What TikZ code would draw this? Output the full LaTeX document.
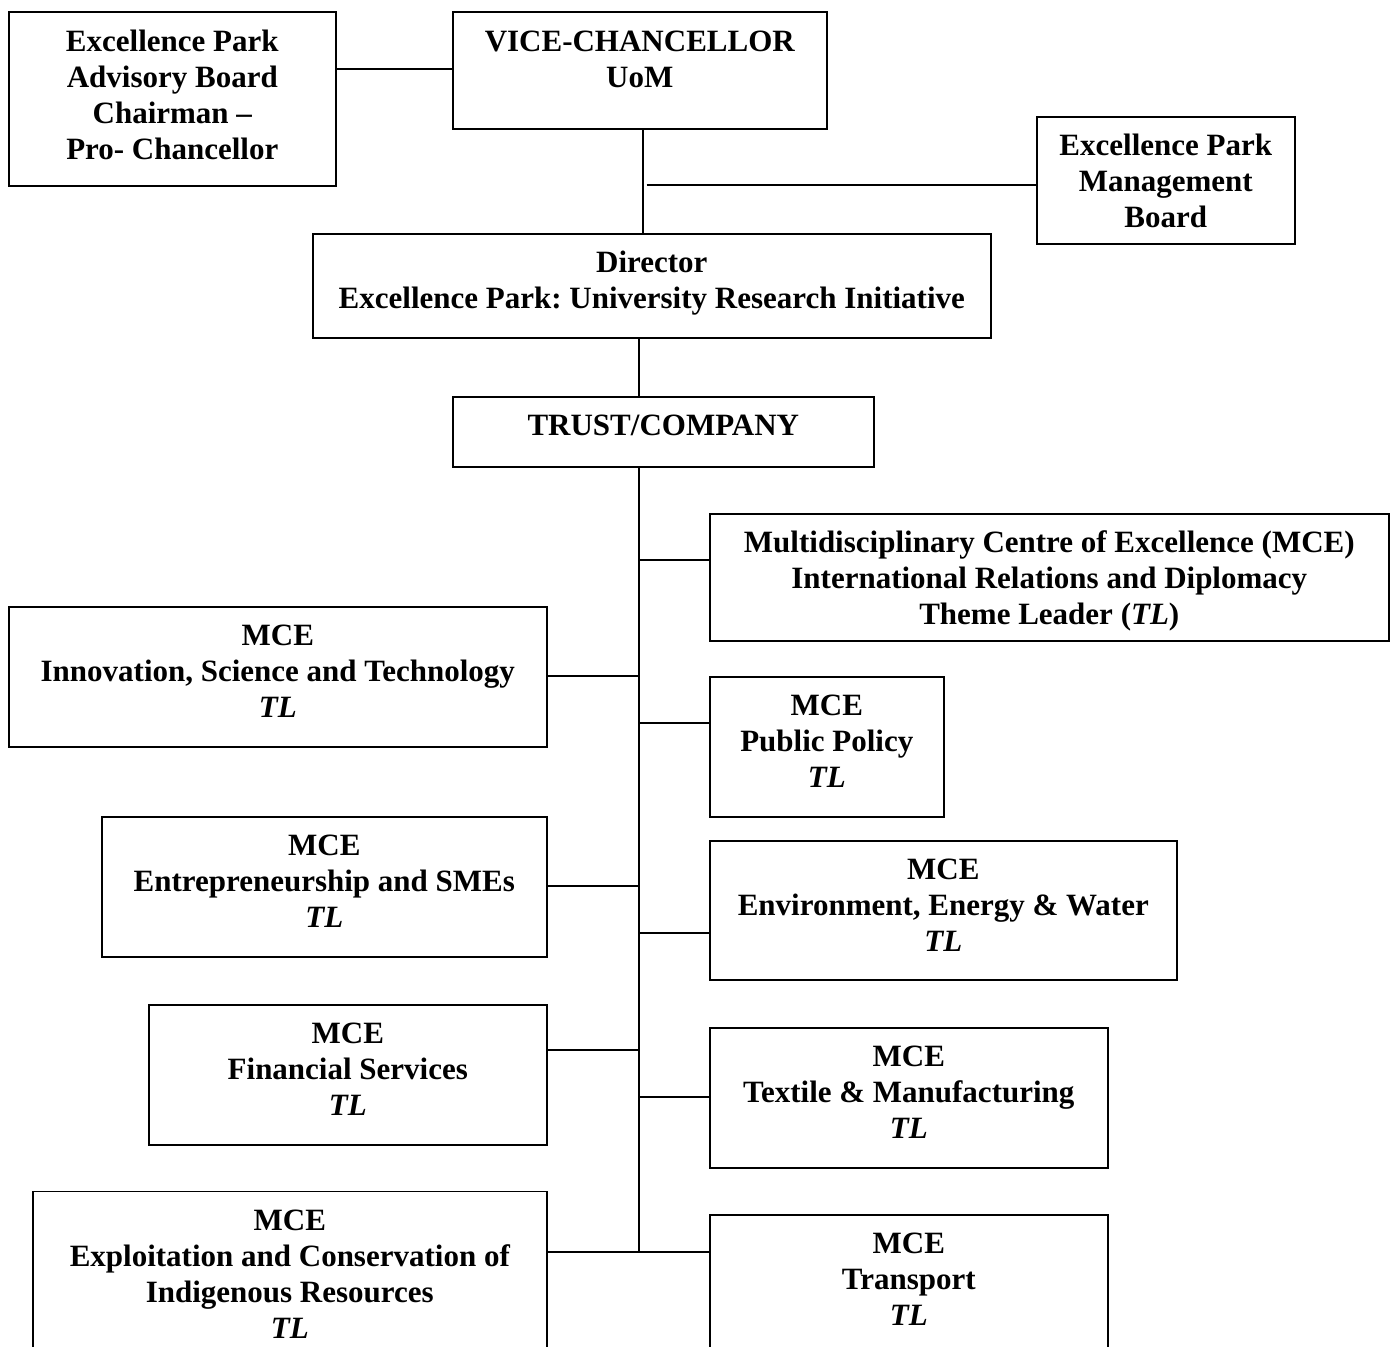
\documentclass[tikz,border=0pt]{standalone}
\usepackage{fontspec}
\setmainfont{Liberation Serif}
\frenchspacing
\tikzset{
  orgbox/.style n args={3}{draw, line width=0.8pt, anchor=north west, align=center,
    inner sep=0pt, minimum width=#1, text height=#2, text depth=#3,
    font=\bfseries\fontsize{15.5}{18}\selectfont},
  link/.style={line width=0.9pt}
}
\begin{document}
\begin{tikzpicture}[x=0.5pt, y=-0.5pt]
    \useasboundingbox (0,0) rectangle (1393,1347);
    % top level
    \node[orgbox={163.5pt}{73.5pt}{13.5pt}] (adv) at (8,11.5) {Excellence Park\\Advisory Board\\Chairman --\\Pro- Chancellor};
    \node[orgbox={187pt}{37.5pt}{20.75pt}] (vc) at (452,11.5) {VICE-CHANCELLOR\\UoM};
    \node[orgbox={129pt}{55.5pt}{8pt}] (mgmt) at (1036,116) {Excellence Park\\Management\\Board};
    \node[orgbox={339pt}{37.5pt}{14.5pt}] (dir) at (312,233) {Director\\Excellence Park: University Research Initiative};
    \node[orgbox={210.5pt}{19.5pt}{15.5pt}] (trust) at (452,396) {TRUST/COMPANY};
    % centres of excellence, right
    \node[orgbox={339.5pt}{55.5pt}{8pt}] (ir) at (709,513) {Multidisciplinary Centre of Excellence (MCE)\\International Relations and Diplomacy\\Theme Leader (\textit{TL})};
    \node[orgbox={117pt}{55.5pt}{14.5pt}] (policy) at (709,676) {MCE\\Public Policy\\\textit{TL}};
    \node[orgbox={233.5pt}{55.5pt}{14pt}] (env) at (709,840) {MCE\\Environment, Energy \& Water\\\textit{TL}};
    \node[orgbox={199pt}{55.5pt}{14.5pt}] (tex) at (709,1027) {MCE\\Textile \& Manufacturing\\\textit{TL}};
    \node[orgbox={199pt}{55.5pt}{14.5pt}] (trans) at (709,1214) {MCE\\Transport\\\textit{TL}};
    % centres of excellence, left
    \node[orgbox={269pt}{55.5pt}{14.5pt}] (innov) at (8,606) {MCE\\Innovation, Science and Technology\\\textit{TL}};
    \node[orgbox={222.5pt}{55.5pt}{14.5pt}] (entre) at (101,816) {MCE\\Entrepreneurship and SMEs\\\textit{TL}};
    \node[orgbox={199pt}{55.5pt}{14.5pt}] (fin) at (148,1004) {MCE\\Financial Services\\\textit{TL}};
    \node[orgbox={257pt}{73.5pt}{14pt}] (expl) at (32,1190.5) {MCE\\Exploitation and Conservation of\\Indigenous Resources\\\textit{TL}};
    % lines
    \coordinate (upper) at (643,0);
    \coordinate (spine) at (639,0);
    \coordinate (mgend) at (646.5,185);
    \draw[link] (adv.east |- 0,69) -- (vc.west |- 0,69);
    \draw[link] (vc.south -| upper) -- (dir.north -| upper);
    \draw[link] (mgend) -- (mgmt.west |- mgend);
    \draw[link] (dir.south -| spine) -- (trust.north -| spine);
    \draw[link] (trust.south -| spine) -- (spine |- 0,1252);
    \foreach \n/\y in {ir/560, policy/723, env/933, tex/1097, trans/1252}
      \draw[link] (spine |- 0,\y) -- (\n.west |- 0,\y);
    \foreach \n/\y in {innov/676, entre/886, fin/1050, expl/1252}
      \draw[link] (spine |- 0,\y) -- (\n.east |- 0,\y);
\end{tikzpicture}
\end{document}
